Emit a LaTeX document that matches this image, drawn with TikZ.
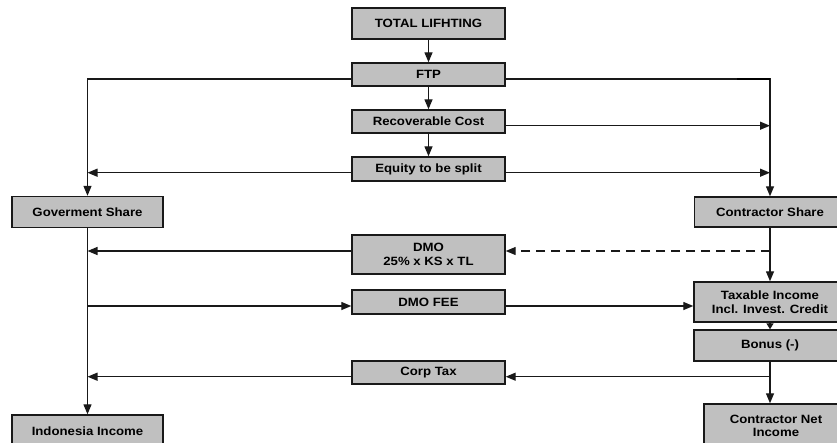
\documentclass[tikz,border=0pt]{standalone}
\usepackage{fontspec}
\setmainfont{Liberation Sans}
\newfontfamily\boxfont[FakeStretch=1.1]{Liberation Sans}
\usetikzlibrary{arrows.meta,calc}
\definecolor{boxgray}{RGB}{192,192,192}
\tikzset{
  box/.style={draw=black!90, line width=1.4pt, fill=boxgray, inner sep=0pt, align=center,
    font=\boxfont\bfseries\fontsize{12}{13.6}\selectfont, text=black},
  conn/.style={draw=black!90, line width=1.3pt},
  arr/.style={conn, -{Triangle[length=10pt,width=8pt]}},
  shortarr/.style={conn, -{Triangle[length=6pt,width=7pt]}},
  dashconn/.style={arr, dash pattern=on 9pt off 6pt}
}
\begin{document}
\begin{tikzpicture}[x=1pt,y=-1pt]
\useasboundingbox (0,0) rectangle (837,442);
\clip (0,0) rectangle (837,442);
% central column
\node[box, minimum width=153pt, minimum height=31pt] (total) at (428.5,23.5) {TOTAL LIFHTING};
\node[box, minimum width=153pt, minimum height=23pt] (ftp) at (428.5,74.5) {FTP};
\node[box, minimum width=153pt, minimum height=23pt] (rec) at (428.5,121.5) {Recoverable Cost};
\node[box, minimum width=153pt, minimum height=24pt] (eq) at (428.5,169) {Equity to be split};
\node[box, minimum width=153pt, minimum height=39pt] (dmo) at (428.5,254.5) {DMO\\25\% x KS x TL};
\node[box, minimum width=153pt, minimum height=24pt] (fee) at (428.5,302) {DMO FEE};
\node[box, minimum width=153pt, minimum height=23pt] (corp) at (428.5,372.5) {Corp Tax};
% left column
\node[box, minimum width=151pt, minimum height=31pt] (gov) at (87.5,212) {Goverment Share};
\node[box, minimum width=151pt, minimum height=32pt] (indo) at (87.5,431) {Indonesia Income};
% right column
\node[box, minimum width=151pt, minimum height=30pt] (cs) at (770,212) {Contractor Share};
\node[box, minimum width=152pt, minimum height=40pt] (tax) at (770,302) {Taxable Income\\Incl. Invest. Credit};
\node[box, minimum width=152pt, minimum height=31pt] (bonus) at (770,345.5) {Bonus (-)};
\node[box, minimum width=144pt, minimum height=44pt] (net) at (776,426) {Contractor Net\\Income};

% connector points
\coordinate (fl) at ([yshift=-4.5pt]ftp.west);
\coordinate (fr) at ([yshift=-4.5pt]ftp.east);
\coordinate (rr) at ([yshift=-4.2pt]rec.east);
\coordinate (el) at ([yshift=-3.7pt]eq.west);
\coordinate (er) at ([yshift=-3.7pt]eq.east);
\coordinate (dl) at ([yshift=3.5pt]dmo.west);
\coordinate (dr) at ([yshift=3.5pt]dmo.east);
\coordinate (gl) at ([yshift=-4pt]fee.west);
\coordinate (gr) at ([yshift=-4pt]fee.east);
\coordinate (cl) at ([yshift=-4.2pt]corp.west);
\coordinate (cr) at ([yshift=-4.2pt]corp.east);

% vertical flow in centre
\draw[arr] (total.south) -- (ftp.north);
\draw[arr] (ftp.south) -- (rec.north);
\draw[arr] (rec.south) -- (eq.north);

% FTP split
\draw[arr] (fl) -| (gov.north);
\draw[arr] (fr) -| (cs.north);
\draw[draw=black, line width=1.8pt] ($(fr -| cs.north)+(-33,0)$) -- (fr -| cs.north);

% recoverable cost and equity
\draw[arr] (rr) -- (rr -| cs.north);
\draw[arr] (el) -- (el -| gov.north);
\draw[arr] (er) -- (er -| cs.north);

% left column
\draw[arr] (gov.south) -- (indo.north);
\draw[arr] (dl) -- (dl -| gov.south);
\draw[arr] (gl -| gov.south) -- (gl);
\draw[arr] (cl) -- (cl -| gov.south);

% right column
\draw[arr] (cs.south) -- (tax.north);
\draw[dashconn] (dr -| cs.south) -- (dr);
\draw[arr] (gr) -- (gr -| tax.west);
\draw[shortarr] (tax.south) -- (bonus.north);
\draw[arr] (bonus.south) -- (bonus.south |- net.north);
\draw[arr] (cr -| bonus.south) -- (cr);
\end{tikzpicture}
\end{document}
